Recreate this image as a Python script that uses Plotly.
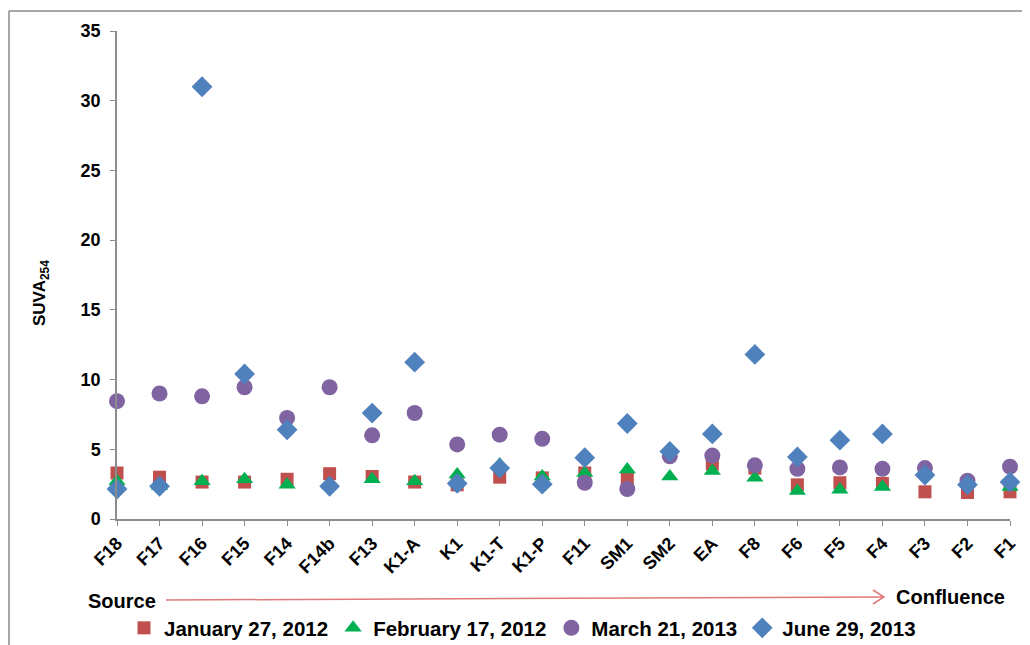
import plotly.graph_objects as go

sites = ["F18", "F17", "F16", "F15", "F14", "F14b", "F13", "K1-A", "K1", "K1-T", "K1-P",
         "F11", "SM1", "SM2", "EA", "F8", "F6", "F5", "F4", "F3", "F2", "F1"]

jan_2012 = [3.3, 3.0, 2.65, 2.65, 2.85, 3.25, 3.05, 2.65, 2.45, 3.0, 2.95,
            3.3, 2.85, None, 3.95, 3.65, 2.45, 2.6, 2.55, 1.95, 1.9, 1.95]
feb_2012 = [2.7, 2.35, 2.7, 2.85, 2.45, None, 2.85, 2.7, 3.2, 3.9, 3.05,
            3.3, 3.55, 3.05, 3.45, 2.95, 2.0, 2.1, 2.3, None, None, 2.3]
mar_2013 = [8.45, 9.0, 8.8, 9.45, 7.25, 9.45, 6.0, 7.6, 5.35, 6.05, 5.75,
            2.6, 2.15, 4.5, 4.55, 3.85, 3.6, 3.7, 3.6, 3.65, 2.75, 3.75]
jun_2013 = [2.15, 2.35, 31.0, 10.4, 6.4, 2.35, 7.6, 11.25, 2.55, 3.65, 2.5,
            4.4, 6.85, 4.85, 6.1, 11.8, 4.45, 5.65, 6.1, 3.15, 2.45, 2.65]

series_names = ["January 27, 2012", "February 17, 2012", "March 21, 2013", "June 29, 2013"]
y_ticks = [0, 5, 10, 15, 20, 25, 30, 35]

FONT = "Arial, Liberation Sans, sans-serif"
AXIS_GRAY = "#8c8c8c"

# The page body adds an 8px margin, so the figure is drawn 8px smaller and
# all positions below are given in target-page pixels.
OFF = 8
W, H = 1030 - OFF, 645 - OFF
L, R, T, B = 117, 1010, 31, 519          # plot area in page pixels
PW, PH = R - L, B - T


def px(x):
    return (x - L) / PW


def py(y):
    return (B - y) / PH


fig = go.Figure()
styles = [
    (jan_2012, "square", "#C0504D", 13),
    (feb_2012, "triangle-up", "#00B050", 15),
    (mar_2013, "circle", "#8064A2", 16),
    (jun_2013, "diamond", "#4F81BD", 16),
]
for name, (vals, sym, col, sz) in zip(series_names, styles):
    fig.add_trace(go.Scatter(
        x=sites, y=vals, mode="markers", name=name,
        marker=dict(symbol=sym, color=col, size=sz, line=dict(width=0)),
        cliponaxis=False,
    ))

fig.update_layout(
    width=W, height=H,
    margin=dict(l=L - OFF, r=(W + OFF) - R, t=T - OFF, b=(H + OFF) - B, autoexpand=False),
    plot_bgcolor="white", paper_bgcolor="white",
    font=dict(family=FONT, color="black", size=17, weight="bold"),
    showlegend=True,
    legend=dict(
        orientation="h", x=px(124), xanchor="left", y=py(628), yanchor="middle",
        font=dict(family=FONT, size=20.5, color="black", weight="bold"),
        itemwidth=30, tracegroupgap=0, bgcolor="rgba(0,0,0,0)",
    ),
)
fig.update_xaxes(
    type="category", categoryorder="array", categoryarray=sites,
    range=[0, len(sites) - 1], automargin=False,
    showline=True, linecolor=AXIS_GRAY, linewidth=1.5,
    ticks="outside", ticklen=5, tickcolor=AXIS_GRAY,
    tickangle=-45, showgrid=False, zeroline=False,
    tickfont=dict(family=FONT, size=18, weight="bold"),
)
fig.update_yaxes(
    range=[0, 35], tickvals=y_ticks, automargin=False,
    showline=True, linecolor=AXIS_GRAY, linewidth=1.5,
    ticks="outside", ticklen=5, tickcolor=AXIS_GRAY,
    showgrid=False, zeroline=False, ticklabelstandoff=6,
    tickfont=dict(family=FONT, size=18, weight="bold"),
)

# y-axis title
fig.add_annotation(
    text="SUVA<sub>254</sub>", textangle=-90, showarrow=False,
    xref="paper", yref="paper", x=px(41), y=py(293), xanchor="center", yanchor="middle",
    font=dict(family=FONT, size=17, weight="bold"),
)
# source / confluence labels
fig.add_annotation(text="Source", showarrow=False, xref="paper", yref="paper",
                   x=px(86), y=py(601), xanchor="left", yanchor="middle",
                   font=dict(family=FONT, size=20, weight="bold"))
fig.add_annotation(text="Confluence", showarrow=False, xref="paper", yref="paper",
                   x=px(894), y=py(597), xanchor="left", yanchor="middle",
                   font=dict(family=FONT, size=20, weight="bold"))
ARROW = "#E07A78"
fig.add_shape(type="line", xref="paper", yref="paper",
              x0=px(166), y0=py(600), x1=px(884), y1=py(597),
              line=dict(color=ARROW, width=1.5))
fig.add_shape(type="path", xref="paper", yref="paper",
              path=f"M {px(873)},{py(590)} L {px(884)},{py(597)} L {px(873)},{py(604)}",
              line=dict(color=ARROW, width=1.5))

# outer frame (left and top edges)
fig.add_shape(type="line", xref="paper", yref="paper",
              x0=px(9), y0=py(11), x1=px(9), y1=py(660),
              line=dict(color="#8a8a8a", width=1.5))
fig.add_shape(type="line", xref="paper", yref="paper",
              x0=px(9), y0=py(11), x1=px(1040), y1=py(11),
              line=dict(color="#8a8a8a", width=1.5))

fig.write_html("out.html")
